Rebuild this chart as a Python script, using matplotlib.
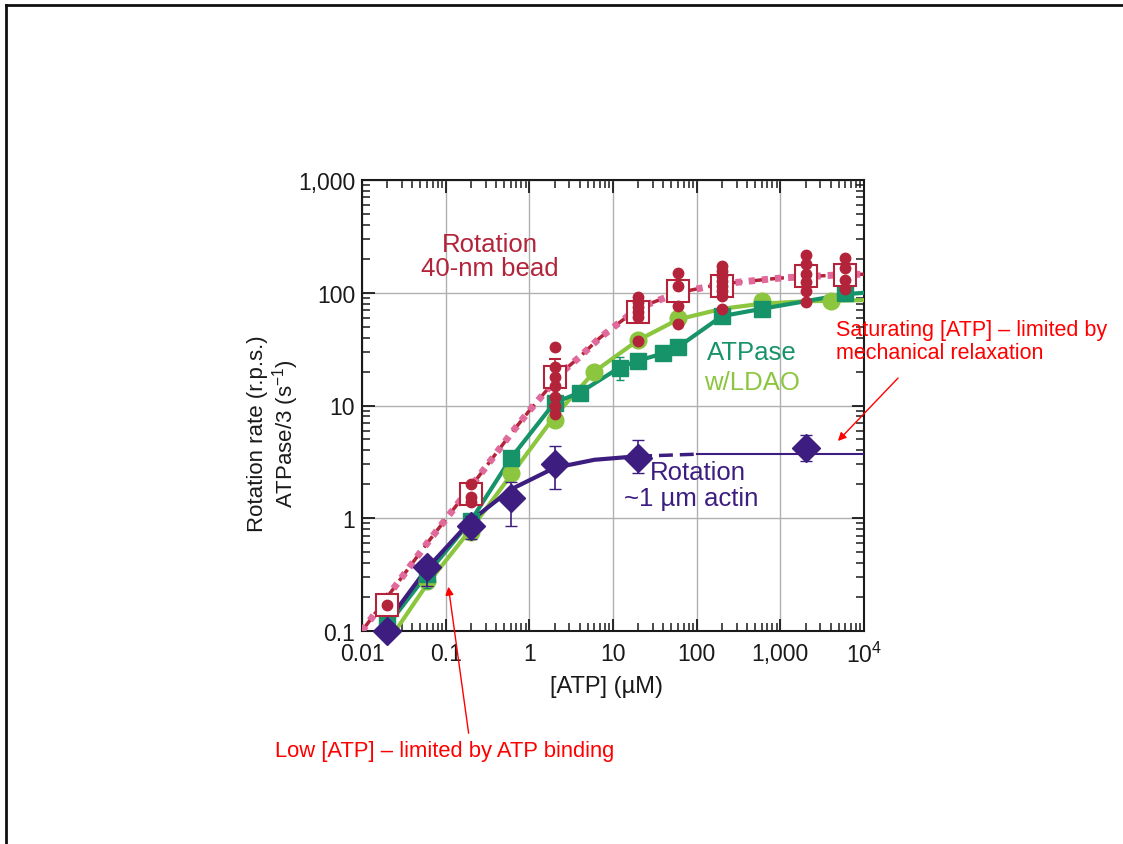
import numpy as np
import matplotlib.pyplot as plt
from matplotlib.lines import Line2D
from matplotlib.patches import FancyArrowPatch
from matplotlib.ticker import FixedLocator, FixedFormatter, LogLocator, NullFormatter

plt.rcParams['font.family'] = ['Liberation Sans', 'DejaVu Sans']
plt.rcParams['mathtext.default'] = 'regular'

# ---- data ----
# rotation, 40-nm bead: mean values (open squares) and individual runs (dots)
bead_x = [0.02, 0.2, 2, 20, 60, 200, 2000, 6000]
bead_y = [0.17, 1.65, 18, 68, 104, 115, 141, 145]
bead_err = [0.02, 0.25, 8, 12, 15, 10, 12, 12]
bead_dots_x = [0.02, 0.2, 0.2, 0.2, 2, 2, 2, 2, 2, 2, 2,
               20, 20, 20, 20, 20, 20, 60, 60, 60, 60,
               200, 200, 200, 200, 200, 200, 200, 200,
               2000, 2000, 2000, 2000, 2000, 2000, 6000, 6000, 6000, 6000]
bead_dots_y = [0.17, 2.0, 1.55, 1.4, 33, 22, 18, 15, 12, 10, 8.4,
               91, 82, 75, 67, 61, 37, 150, 115, 76, 53,
               173, 156, 141, 127, 115, 104, 94, 72,
               215, 180, 147, 125, 104, 83, 205, 165, 130, 108]
bead_fit_x = [0.01, 0.02, 0.06, 0.2, 0.6, 1, 2.5, 4, 7, 15, 25, 60, 200, 1000, 6000, 10000]
bead_fit_y = [0.1, 0.2, 0.6, 1.9, 5.6, 9, 20, 27, 40, 62, 78, 100, 120, 135, 145, 146]

# ATPase (dark green squares)
atp_x = [0.02, 0.06, 0.2, 0.6, 2, 4, 12, 20, 40, 60, 200, 600, 6000]
atp_y = [0.12, 0.32, 0.95, 3.4, 10.6, 13, 21.7, 25, 29, 33, 62, 72, 100]
atp_line_x = [0.018, 0.06, 0.2, 0.6, 2, 4, 12, 20, 40, 60, 200, 600, 6000, 10000]
atp_line_y = [0.1, 0.32, 0.95, 3.4, 10.6, 13, 21.7, 25, 29, 33, 62, 72, 97, 100]

# ATPase w/LDAO (light green circles)
ldao_x = [0.06, 0.2, 0.6, 2, 6, 20, 60, 600, 4000]
ldao_y = [0.28, 0.75, 2.5, 7.5, 20, 38, 60, 85, 85]
ldao_fit_x = [0.025, 0.06, 0.2, 0.6, 2, 6, 20, 60, 200, 600, 2000, 10000]
ldao_fit_y = [0.1, 0.26, 0.8, 2.4, 8, 20, 38, 58, 72, 80, 84, 86]

# rotation, ~1 um actin (indigo diamonds)
actin_x = [0.02, 0.06, 0.2, 0.6, 2, 20, 2000]
actin_y = [0.1, 0.37, 0.85, 1.5, 3.0, 3.4, 4.2]
actin_lo = [0.0, 0.12, 0.2, 0.65, 1.2, 0.9, 1.0]
actin_hi = [0.0, 0.0, 0.2, 0.6, 1.4, 1.5, 1.3]
actin_fit_x = [0.016, 0.02, 0.06, 0.2, 0.6, 2, 6, 20]
actin_fit_y = [0.1, 0.12, 0.36, 0.95, 1.8, 2.8, 3.3, 3.55]
actin_dash_x = [20, 100]
actin_dash_y = [3.55, 3.7]
actin_flat_x = [100, 10000]
actin_flat_y = [3.7, 3.7]

xticks = [0.01, 0.1, 1, 10, 100, 1000, 10000]
xlabels = ['0.01', '0.1', '1', '10', '100', '1,000', '10$^4$']
yticks = [0.1, 1, 10, 100, 1000]
ylabels = ['0.1', '1', '10', '100', '1,000']

DRED = '#b3243a'
PINK = '#e06a9c'
DGREEN = '#17936a'
LGREEN = '#8cc63f'
INDIGO = '#3d1d80'
INK = '#1a1a1a'

W, H = 1123, 845
fig = plt.figure(figsize=(W / 100, H / 100), dpi=100)
ax = fig.add_axes([362 / W, 1 - 632 / H, 502 / W, 451 / H])
ax.set_xscale('log')
ax.set_yscale('log')
ax.set_xlim(0.01, 1e4)
ax.set_ylim(0.1, 1000)

ax.grid(True, which='major', color='#b0b0b0', lw=1.0)
ax.set_axisbelow(True)

# fits
ax.plot(bead_fit_x, bead_fit_y, color=DRED, lw=2.5, dashes=(4, 2), zorder=3)
ax.plot(bead_fit_x, bead_fit_y, color=PINK, lw=5, dashes=(0.9, 1.0), zorder=3)
ax.plot(ldao_fit_x, ldao_fit_y, color=LGREEN, lw=3, zorder=3)
ax.plot(atp_line_x, atp_line_y, color=DGREEN, lw=3, zorder=3)
ax.plot(actin_fit_x, actin_fit_y, color=INDIGO, lw=3, zorder=4)
ax.plot(actin_dash_x, actin_dash_y, color=INDIGO, lw=2.5, dashes=(4, 2), zorder=4)
ax.plot(actin_flat_x, actin_flat_y, color=INDIGO, lw=1.5, zorder=4)

# markers
ax.plot(ldao_x, ldao_y, 'o', color=LGREEN, ms=12, zorder=5)
ax.errorbar(atp_x, atp_y, yerr=[[0, 0.08, 0, 0, 0, 0, 5, 0, 0, 0, 0, 0, 0],
                                [0, 0, 0, 0, 0, 0, 5, 0, 0, 0, 0, 0, 0]],
            fmt='s', color=DGREEN, ms=11, capsize=3, lw=1.2, zorder=5)
ax.errorbar(bead_x, bead_y, yerr=bead_err, fmt='s', mfc='white', mec=DRED,
            mew=1.5, ms=16, ecolor=DRED, capsize=4, lw=1.2, zorder=6)
ax.plot(bead_dots_x, bead_dots_y, 'o', color=DRED, ms=7.5, zorder=7)
ax.errorbar(actin_x, actin_y, yerr=[actin_lo, actin_hi], fmt='D', color=INDIGO,
            ms=14, capsize=4, lw=1.2, zorder=8, clip_on=False)

# ticks
ax.xaxis.set_major_locator(FixedLocator(xticks))
ax.xaxis.set_major_formatter(FixedFormatter(xlabels))
ax.yaxis.set_major_locator(FixedLocator(yticks))
ax.yaxis.set_major_formatter(FixedFormatter(ylabels))
ax.xaxis.set_minor_locator(LogLocator(base=10, subs=np.arange(2, 10), numticks=20))
ax.yaxis.set_minor_locator(LogLocator(base=10, subs=np.arange(2, 10), numticks=20))
ax.xaxis.set_minor_formatter(NullFormatter())
ax.yaxis.set_minor_formatter(NullFormatter())
ax.tick_params(which='major', direction='in', length=9, width=1.3,
               top=True, right=True, labelsize=16.5, colors=INK, pad=5)
ax.tick_params(axis='x', which='major', pad=8)
ax.tick_params(which='minor', direction='in', length=6, width=1.1,
               top=True, right=True, colors=INK)
for s in ax.spines.values():
    s.set_linewidth(1.5)
    s.set_color(INK)

ax.set_xlabel('[ATP] (\u00b5M)', fontsize=17, color=INK)
ax.xaxis.set_label_coords((607 - 362) / 502, -(676 - 632) / 451)
ax.set_ylabel('Rotation rate (r.p.s.)\nATPase/3 (s$^{\u22121}$)', fontsize=16,
              color=INK, linespacing=1.1)
ax.yaxis.set_label_coords(-(362 - 301) / 502, (632 - 434) / 451)

# in-plot labels
def ftext(x, y, s, **kw):
    fig.text(x / W, 1 - y / H, s, **kw)

ftext(490, 257, 'Rotation\n40-nm bead', color=DRED, fontsize=18.5, ha='center',
      va='center', linespacing=1.05)
ftext(752, 353, 'ATPase', color=DGREEN, fontsize=18.5, ha='center', va='center')
ftext(752, 383, 'w/LDAO', color=LGREEN, fontsize=18.5, ha='center', va='center')
ftext(698, 473, 'Rotation', color=INDIGO, fontsize=18.5, ha='center', va='center')
ftext(691, 499, '~1 \u00b5m actin', color=INDIGO, fontsize=18.5, ha='center',
      va='center')

# annotations
ftext(836, 342, 'Saturating [ATP] \u2013 limited by\nmechanical relaxation',
      color='red', fontsize=15.5, ha='left', va='center', linespacing=1.1)
ftext(275, 751, 'Low [ATP] \u2013 limited by ATP binding', color='red',
      fontsize=15.8, ha='left', va='center')
fig.add_artist(FancyArrowPatch(
    (900 / W, 1 - 377 / H), (836 / W, 1 - 444 / H), transform=fig.transFigure,
    arrowstyle='-|>', mutation_scale=12, color='red', lw=1))
fig.add_artist(FancyArrowPatch(
    (469 / W, 1 - 737 / H), (448 / W, 1 - 585 / H), transform=fig.transFigure,
    arrowstyle='-|>', mutation_scale=12, color='red', lw=1))

# slide frame
fig.add_artist(Line2D([6 / W, 6 / W], [0, 1 - 6 / H], transform=fig.transFigure,
                      color='#111111', lw=2))
fig.add_artist(Line2D([6 / W, 1], [1 - 6 / H, 1 - 6 / H], transform=fig.transFigure,
                      color='#111111', lw=2))

fig.savefig('out.png', dpi=100)
